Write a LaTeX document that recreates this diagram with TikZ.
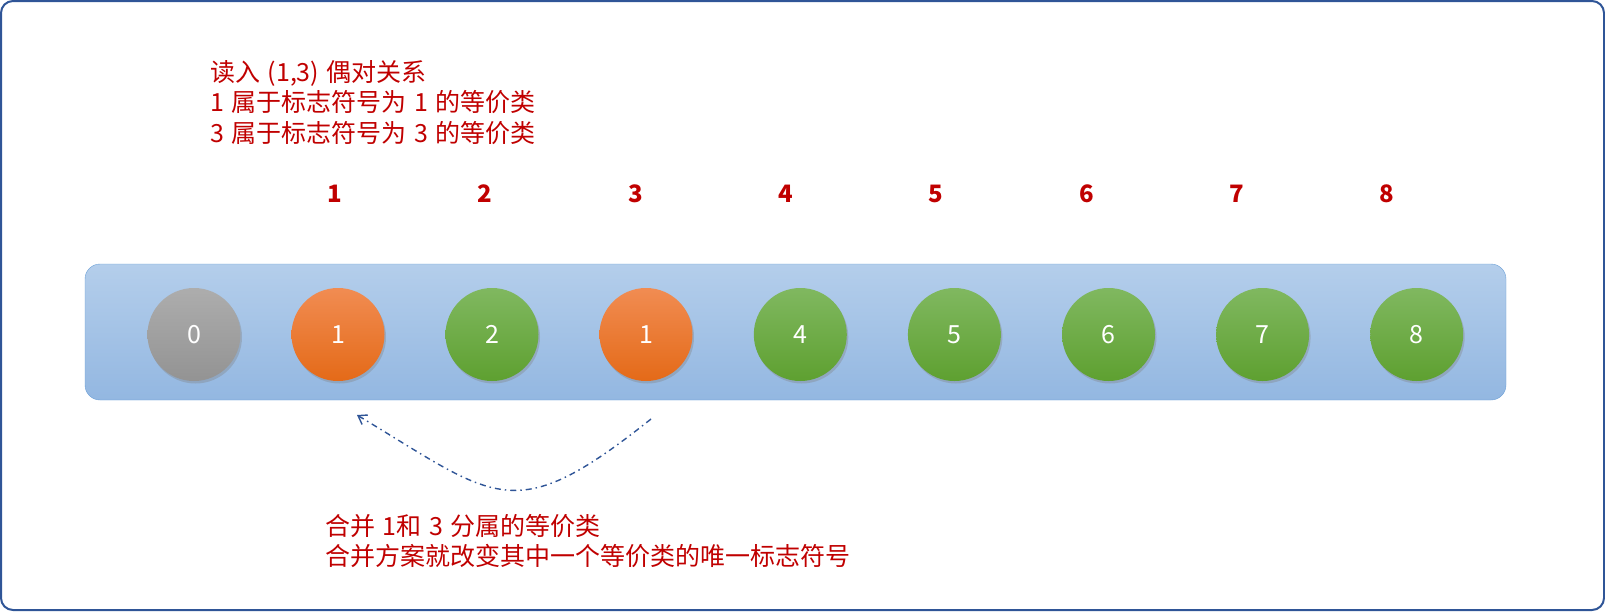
\documentclass[tikz,border=0pt]{standalone}
\usepackage{fontspec}
\setmainfont{Noto Sans CJK SC}
\usepackage{tikz}
\usetikzlibrary{
    calc,
    arrows.meta,
    shadows
}
\definecolor{frameblue}{HTML}{2F5597}
\definecolor{notered}{HTML}{C00000}
\definecolor{bandtop}{HTML}{B4CEEB}
\definecolor{bandbot}{HTML}{93B7E1}
\definecolor{bandline}{HTML}{6B9FD6}
\definecolor{orangetop}{HTML}{F18C52}
\definecolor{orangebot}{HTML}{E46A18}
\definecolor{greentop}{HTML}{80B860}
\definecolor{greenbot}{HTML}{5EA030}
\definecolor{graytop}{HTML}{ADADAD}
\definecolor{graybot}{HTML}{939393}
\newcommand{\NoteFont}{\fontsize{25}{30.5}\selectfont\spaceskip 0.3em\relax}

\begin{document}
\begin{tikzpicture}[x=1pt,y=-1pt,
  note/.style={text=notered, align=left, inner sep=0pt, font=\NoteFont},
  idx/.style={text=notered, inner sep=0pt, font=\fontsize{24}{26}\selectfont\bfseries},
  ball/.style={circle, minimum size=93pt, inner sep=0pt, text=white,
    font=\fontsize{25}{28}\selectfont,
    drop shadow={shadow xshift=1.5pt, shadow yshift=-2.5pt, opacity=0.35}},
  grayball/.style={ball, top color=graytop, bottom color=graybot},
  orangeball/.style={ball, top color=orangetop, bottom color=orangebot},
  greenball/.style={ball, top color=greentop, bottom color=greenbot}]
\useasboundingbox (0,0) rectangle (1605,611);
\draw[frameblue, line width=2pt, rounded corners=12pt] (1,1) rectangle (1604,610);

% band with the sets
\shade[top color=bandtop, bottom color=bandbot, draw=bandline, rounded corners=15pt]
  (85,264) rectangle (1506,400);

\node[grayball] (b0) at (194,334.5) {0};
\node[orangeball] (b1) at (338,334.5) {1};
\node[greenball] (b2) at (492,334.5) {2};
\node[orangeball] (b3) at (646,334.5) {1};
\foreach \i in {4,...,8}
  \node[greenball] (b\i) at ({338+154.1*(\i-1)},334.5) {\i};

\foreach \i in {1,...,8}
  \node[idx] (n\i) at ({335+150.3*(\i-1)},194) {\i};

\node[note, anchor=north west] (read) at (210,60)
  {读入 (1,3) 偶对关系\\1 属于标志符号为 1 的等价类\\3 属于标志符号为 3 的等价类};

% merge arrow
\coordinate (from) at (651,419);
\coordinate (to) at (357,415);
\draw[frameblue, line width=1.4pt, dash pattern=on 6pt off 4pt on 1.5pt off 4pt,
  -{Straight Barb[length=8pt,width=11pt]}]
  (from) .. controls (513,529) and (497,499) .. (to);

\node[note, anchor=north west] (merge) at (325,514)
  {合并 1和 3 分属的等价类\\合并方案就改变其中一个等价类的唯一标志符号};
\end{tikzpicture}
\end{document}
